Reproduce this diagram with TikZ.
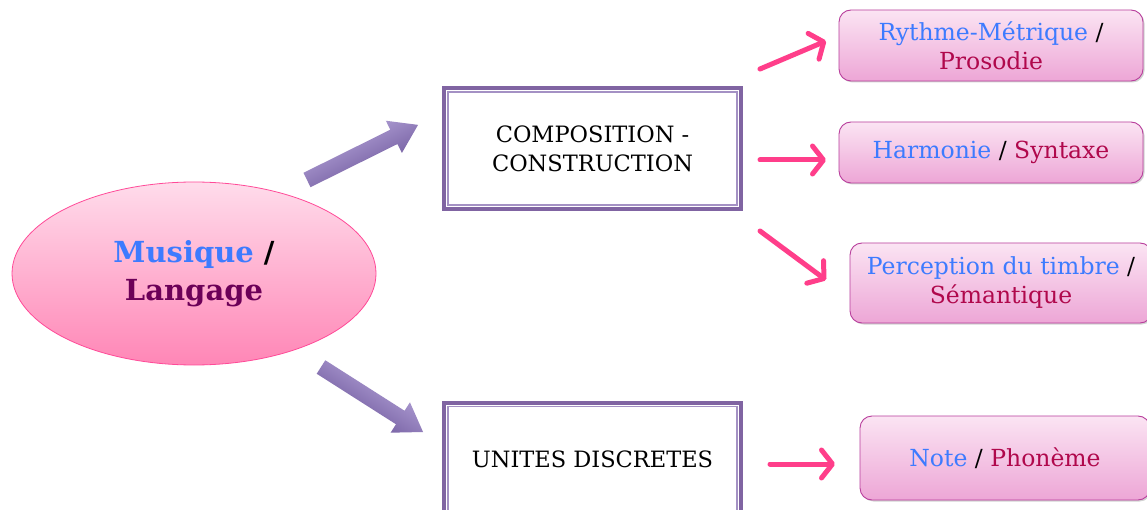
\documentclass[tikz,border=0pt]{standalone}
\usepackage{fontspec}
\setmainfont{DejaVu Serif}
\usetikzlibrary{arrows.meta,shadows,shapes.geometric}
\definecolor{ellTop}{HTML}{FFDCEB}
\definecolor{ellBot}{HTML}{FF86B6}
\definecolor{ellLine}{HTML}{FF4A98}
\definecolor{boxTop}{HTML}{FBE4F3}
\definecolor{boxBot}{HTML}{EDA6D6}
\definecolor{boxLine}{HTML}{B83E9C}
\definecolor{purp}{HTML}{8064A2}
\definecolor{purpLight}{HTML}{A491C4}
\definecolor{arrTop}{HTML}{A694CC}
\definecolor{arrMid}{HTML}{654F90}
\definecolor{arrBot}{HTML}{7C67A8}
\definecolor{pinkArr}{HTML}{FF3E8A}
\definecolor{txtBlue}{HTML}{3D7BFF}
\definecolor{txtRed}{HTML}{B0084C}
\definecolor{txtLang}{HTML}{6C0058}
\tikzset{
  ellnode/.style={ellipse, draw=ellLine, line width=0.8pt, top color=ellTop, bottom color=ellBot,
    minimum width=364pt, minimum height=183pt, inner sep=0pt, align=center,
    font=\bfseries\fontsize{29}{40}\selectfont},
  framebox/.style={rectangle, draw=purp, line width=4pt, fill=white, minimum width=297pt,
    align=center, font=\fontsize{22.5}{29}\selectfont},
  innerframe/.style={draw=purpLight, line width=1.5pt},
  roundbox/.style={rectangle, rounded corners=12pt, draw=boxLine, line width=0.9pt,
    top color=boxTop, bottom color=boxBot, align=center, inner sep=0pt,
    drop shadow={shadow xshift=1.5pt, shadow yshift=-1.5pt, opacity=0.35},
    font=\fontsize{23.5}{29}\selectfont},
  pinkarrow/.style={draw=pinkArr, line width=5pt, line cap=round,
    -{Straight Barb[length=11pt, width=28pt, line width=5pt, round]}},
  blockarr/.style={draw=none, top color=arrTop, middle color=arrMid, bottom color=arrBot},
}
\newcommand\blockarrow[3]{%
  \begin{scope}[transform canvas={shift={(#1)}, rotate=#2}]
    \shade[blockarr] (0,-8) -- (#3-27,-8) -- (#3-27,-18) -- (#3,0) -- (#3-27,18)
      -- (#3-27,8) -- (0,8) -- cycle;
  \end{scope}}
\begin{document}
\begin{tikzpicture}[x=1pt, y=-1pt]
\useasboundingbox (0,0) rectangle (1147,510);
\fill[white] (0,0) rectangle (1147,510);

% central ellipse
\node[ellnode] (ml) at (194,273.5) {{\color{txtBlue}Musique} /\\[-2pt]{\color{txtLang}Langage}};

% framed boxes
\node[framebox, minimum height=121pt] (comp) at (592.5,148.5) {COMPOSITION -\\CONSTRUCTION};
\draw[innerframe] ([shift={(6pt,-6pt)}]comp.north west) rectangle ([shift={(-6pt,6pt)}]comp.south east);
\node[framebox, minimum height=113pt] (unit) at (592.5,459) {UNITES DISCRETES};
\draw[innerframe] ([shift={(6pt,-6pt)}]unit.north west) rectangle ([shift={(-6pt,6pt)}]unit.south east);

% rounded boxes
\node[roundbox, minimum width=304pt, minimum height=71pt] (r1) at (991,45.5)
  {{\color{txtBlue}Rythme-Métrique} /\\{\color{txtRed}Prosodie}};
\node[roundbox, minimum width=304pt, minimum height=61pt] (r2) at (991,152.5)
  {{\color{txtBlue}Harmonie} / {\color{txtRed}Syntaxe}};
\node[roundbox, minimum width=302pt, minimum height=80pt] (r3) at (1001,283)
  {{\color{txtBlue}Perception du timbre} /\\{\color{txtRed}Sémantique}};
\node[roundbox, minimum width=290pt, minimum height=84pt] (r4) at (1005,458)
  {{\color{txtBlue}Note} / {\color{txtRed}Phonème}};

% block arrows
\coordinate (b1s) at (307,180);
\coordinate (b2s) at (321,367);
\blockarrow{b1s}{26.4}{124}
\blockarrow{b2s}{-32.5}{121}

% pink arrows
\coordinate (p1s) at (760,69);  \coordinate (p1e) at (826,41);
\coordinate (p2s) at (760,160); \coordinate (p2e) at (826,160);
\coordinate (p3s) at (760,231); \coordinate (p3e) at (826,280);
\coordinate (p4s) at (770,464); \coordinate (p4e) at (835,464);
\draw[pinkarrow] (p1s) -- (p1e);
\draw[pinkarrow] (p2s) -- (p2e);
\draw[pinkarrow] (p3s) -- (p3e);
\draw[pinkarrow] (p4s) -- (p4e);
\end{tikzpicture}
\end{document}
